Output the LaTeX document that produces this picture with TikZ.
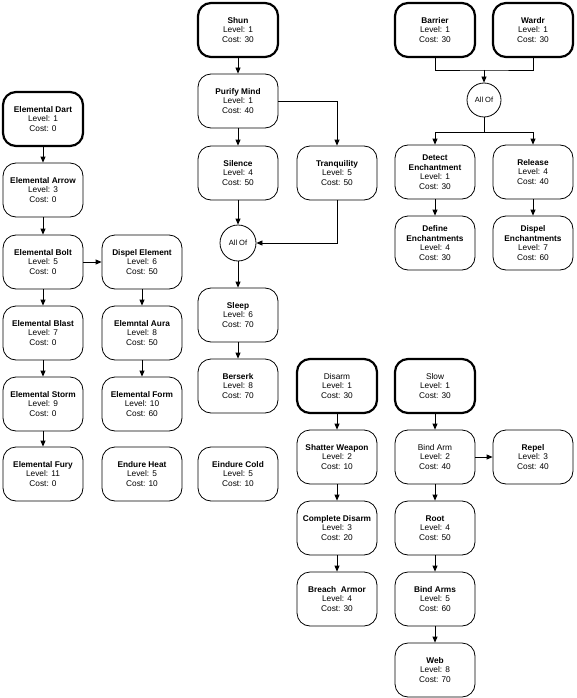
\documentclass[tikz,border=0pt]{standalone}
\usepackage{fontspec}
\setmainfont{Liberation Sans}
\usetikzlibrary{arrows.meta}
\newcommand\skl[3]{\textbf{#1}\\Level: #2\\Cost: #3}
\newcommand\skn[3]{#1\\Level: #2\\Cost: #3}
\tikzset{
  skbox/.style={draw, rounded corners=13pt, minimum width=80pt, minimum height=54pt, align=center, inner sep=0pt, font=\fontsize{8.3}{9.6}\selectfont, line width=0.8pt},
  skroot/.style={skbox, line width=2.2pt},
  allof/.style={circle, draw, minimum size=36pt, inner sep=0pt, font=\fontsize{7.5}{9}\selectfont, line width=0.8pt},
  arr/.style={-{Triangle[length=6pt,width=5pt]}, line width=0.8pt},
  ln/.style={line width=0.8pt}
}
\begin{document}
\begin{tikzpicture}[x=1pt,y=-1pt]
\useasboundingbox (0,0) rectangle (576,698);
% column 1
\node[skroot] (dart) at (43,119) {\skl{Elemental Dart}{1}{0}};
\node[skbox] (arrow) at (43,190) {\skl{Elemental Arrow}{3}{0}};
\node[skbox] (bolt) at (43,262) {\skl{Elemental Bolt}{5}{0}};
\node[skbox] (blast) at (43,333) {\skl{Elemental Blast}{7}{0}};
\node[skbox] (storm) at (43,404) {\skl{Elemental Storm}{9}{0}};
\node[skbox] (fury) at (43,474) {\skl{Elemental Fury}{11}{0}};
% column 2
\node[skbox] (dispel) at (142,262) {\skl{Dispel Element}{6}{50}};
\node[skbox] (aura) at (142,333) {\skl{Elemntal Aura}{8}{50}};
\node[skbox] (form) at (142,404) {\skl{Elemental Form}{10}{60}};
\node[skbox] (heat) at (142,474) {\skl{Endure Heat}{5}{10}};
% column 3
\node[skroot] (shun) at (238,30) {\skl{Shun}{1}{30}};
\node[skbox] (purify) at (238,101) {\skl{Purify Mind}{1}{40}};
\node[skbox] (silence) at (238,173) {\skl{Silence}{4}{50}};
\node[skbox] (tranq) at (337,173) {\skl{Tranquility}{5}{50}};
\node[allof] (all1) at (238,243) {All Of};
\node[skbox] (sleep) at (238,315) {\skl{Sleep}{6}{70}};
\node[skbox] (berserk) at (238,386) {\skl{Berserk}{8}{70}};
\node[skbox] (cold) at (238,474) {\skl{Eindure Cold}{5}{10}};
% disarm column
\node[skroot] (disarm) at (337,386) {\skn{Disarm}{1}{30}};
\node[skbox] (shatter) at (337,457) {\skl{Shatter Weapon}{2}{10}};
\node[skbox] (complete) at (337,528) {\skl{Complete Disarm}{3}{20}};
\node[skbox] (breach) at (337,599) {\skl{Breach\ \ Armor}{4}{30}};
% slow column
\node[skroot] (slow) at (435,386) {\skn{Slow}{1}{30}};
\node[skbox] (bindarm) at (435,457) {\skn{Bind Arm}{2}{40}};
\node[skbox] (repel) at (533,457) {\skl{Repel}{3}{40}};
\node[skbox] (root) at (435,528) {\skl{Root}{4}{50}};
\node[skbox] (bindarms) at (435,599) {\skl{Bind Arms}{5}{60}};
\node[skbox] (web) at (435,670) {\skl{Web}{8}{70}};
% top right
\node[skroot] (barrier) at (435,30) {\skl{Barrier}{1}{30}};
\node[skroot] (wardr) at (533,30) {\skl{Wardr}{1}{30}};
\coordinate (join) at (484,70);
\node[allof, minimum size=34pt] (all2) at (484,100) {All Of};
\coordinate (split) at (484,132);
\node[skbox] (detect) at (435,172) {\textbf{Detect}\\\textbf{Enchantment}\\Level: 1\\Cost: 30};
\node[skbox] (release) at (533,172) {\skl{Release}{4}{40}};
\node[skbox] (define) at (435,243) {\textbf{Define}\\\textbf{Enchantments}\\Level: 4\\Cost: 30};
\node[skbox] (dispench) at (533,243) {\textbf{Dispel}\\\textbf{Enchantments}\\Level: 7\\Cost: 60};
% connectors
\draw[arr] (dart) -- (arrow);
\draw[arr] (arrow) -- (bolt);
\draw[arr] (bolt) -- (blast);
\draw[arr] (blast) -- (storm);
\draw[arr] (storm) -- (fury);
\draw[arr] (bolt) -- (dispel);
\draw[arr] (dispel) -- (aura);
\draw[arr] (aura) -- (form);
\draw[arr] (shun) -- (purify);
\draw[arr] (purify) -- (silence);
\draw[arr] (purify.east) -| (tranq.north);
\draw[arr] (silence) -- (all1);
\draw[arr] (tranq.south) |- (all1.east);
\draw[arr] (all1) -- (sleep);
\draw[arr] (sleep) -- (berserk);
\draw[arr] (disarm) -- (shatter);
\draw[arr] (shatter) -- (complete);
\draw[arr] (complete) -- (breach);
\draw[arr] (slow) -- (bindarm);
\draw[arr] (bindarm) -- (repel);
\draw[arr] (bindarm) -- (root);
\draw[arr] (root) -- (bindarms);
\draw[arr] (bindarms) -- (web);
\draw[ln] (barrier.south) |- (join) -| (wardr.south);
\draw[arr] (join) -- (all2.north);
\draw[ln] (all2.south) -- (split);
\draw[arr] (split) -| (detect.north);
\draw[arr] (split) -| (release.north);
\draw[arr] (detect) -- (define);
\draw[arr] (release) -- (dispench);
\end{tikzpicture}
\end{document}
